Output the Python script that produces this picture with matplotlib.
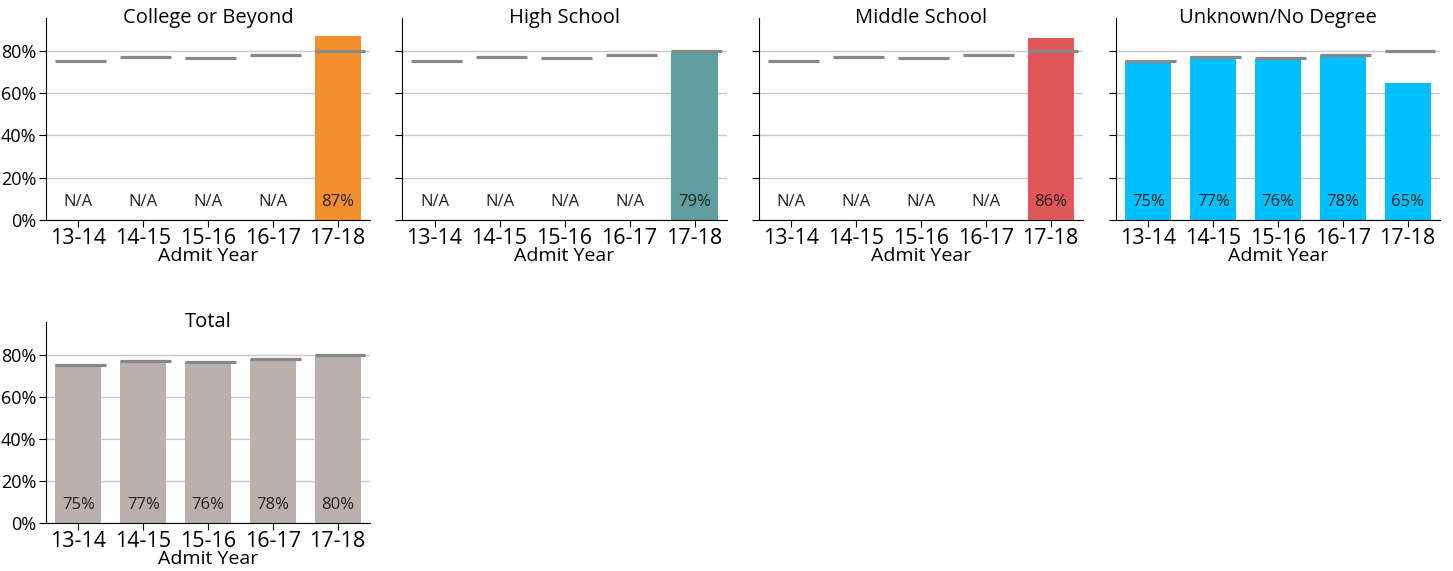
import numpy as np
import matplotlib.pyplot as plt
from matplotlib.ticker import PercentFormatter

plt.rcParams['font.family'] = ['Open Sans', 'DejaVu Sans']

# data
years = ['13-14', '14-15', '15-16', '16-17', '17-18']
groups = ['College or Beyond', 'High School', 'Middle School', 'Unknown/No Degree', 'Total']
college = [None, None, None, None, 0.87]
high_school = [None, None, None, None, 0.79]
middle_school = [None, None, None, None, 0.86]
unknown = [0.75, 0.77, 0.76, 0.78, 0.65]
total = [0.753, 0.772, 0.764, 0.781, 0.798]
colors = ['#F28E2B', '#5F9EA0', '#E15759', '#00BFFF', '#BAB0AC']

series = [college, high_school, middle_school, unknown, total]

fig = plt.figure(figsize=(14.53, 5.71), dpi=100)
W, H = 1453, 571
# axes boxes in pixels: left, top, right, bottom
boxes = [(46, 18, 370, 220), (402, 18, 727, 220), (759, 18, 1083, 220),
         (1116, 18, 1440, 220), (46, 322, 370, 523)]

x = np.arange(len(years))
for i, (g, vals, c, b) in enumerate(zip(groups, series, colors, boxes)):
    l, t, r, bt = b
    ax = fig.add_axes([l / W, 1 - bt / H, (r - l) / W, (bt - t) / H])
    ax.set_axisbelow(True)
    ax.yaxis.grid(True, color='#c8c8c8', lw=1)
    for j, v in enumerate(vals):
        if v is not None:
            ax.bar(x[j], v, width=0.71, color=c, zorder=2)
            lab = f'{v * 100:.0f}%'
        else:
            lab = 'N/A'
        ax.text(x[j], 0.085, lab, ha='center', va='center', fontsize=12,
                color='#222222', zorder=4)
    # total reference marks
    ax.hlines(total, x - 0.355, x + 0.43, color='#888888', lw=2.3, zorder=3)
    ax.set_xlim(-0.5, 4.5)
    ax.set_ylim(0, 0.955)
    ax.set_yticks([0, 0.2, 0.4, 0.6, 0.8])
    ax.yaxis.set_major_formatter(PercentFormatter(1.0, decimals=0))
    ax.set_xticks(x)
    ax.set_xticklabels(years, fontsize=15.5)
    ax.tick_params(axis='y', labelsize=13, length=5, pad=2)
    ax.tick_params(axis='x', length=5, pad=1)
    if i in (1, 2, 3):
        ax.set_yticklabels([])
    ax.spines['top'].set_visible(False)
    ax.spines['right'].set_visible(False)
    ax.set_xlabel('Admit Year', fontsize=14, labelpad=-2)
    ax.text(0.5, 1.0, g, transform=ax.transAxes, ha='center', va='center', fontsize=14.5)

fig.savefig('out.png', dpi=100)
